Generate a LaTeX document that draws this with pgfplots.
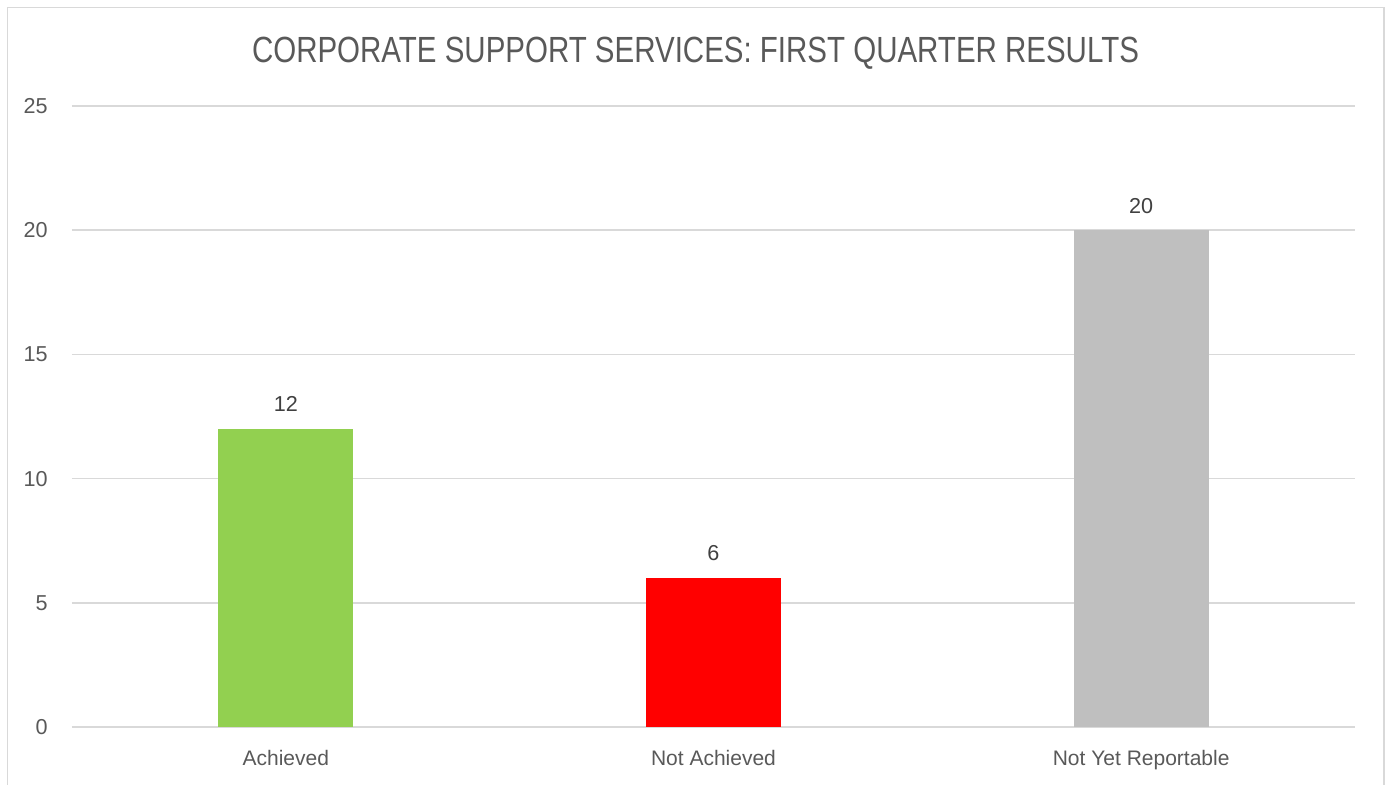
\documentclass[border=0pt]{standalone}
\usepackage{pgfplots}
\pgfplotsset{compat=1.18}
\usepackage{fontspec}
\setmainfont{Liberation Sans}
\newfontfamily\titlefont[FakeStretch=0.81]{Liberation Sans}

\definecolor{achieved}{HTML}{92D050}
\definecolor{notach}{HTML}{FF0000}
\definecolor{notyet}{HTML}{BFBFBF}
\definecolor{gridc}{HTML}{D9D9D9}
\definecolor{txt}{HTML}{595959}
\definecolor{lbl}{HTML}{404040}

\begin{document}
% 1 px of the reference = 0.5pt
\begin{tikzpicture}[x=0.5pt,y=-0.5pt]
    \useasboundingbox (0,0) rectangle (1391,785);
    % chart frame
    \draw[gridc, line width=0.75pt] (7.5,785) -- (7.5,7.5) -- (1384,7.5) -- (1384,785);

    \node[anchor=base, inner sep=0pt, text=txt, font=\titlefont\fontsize{18.2}{20}\selectfont]
        at (695.5,63) {CORPORATE SUPPORT SERVICES: FIRST QUARTER RESULTS};

    \begin{axis}[
        at={(36pt,-363.5pt)}, anchor=south west,
        scale only axis,
        width=641.5pt, height=310.5pt,
        xmin=-0.5, xmax=2.5,
        ymin=0, ymax=25,
        ytick={0,5,...,25},
        xtick={0,1,2},
        xticklabels={Achieved, Not Achieved, Not Yet Reportable},
        major tick length=0pt,
        axis line style={draw=none},
        ymajorgrids,
        grid style={gridc, line width=0.75pt},
        /pgf/number format/assume math mode=true,
        yticklabel style={anchor=east, inner sep=0pt, xshift=-12pt,
            text=txt, font=\fontsize{10.8}{12}\selectfont},
        xticklabel style={anchor=base, inner sep=0pt, yshift=-19pt,
            text=txt, font=\fontsize{10.5}{12}\selectfont},
        ybar, bar width=67.5pt, bar shift=0pt,
        nodes near coords,
        nodes near coords style={anchor=base, inner sep=0pt, yshift=8.5pt,
            text=lbl, font=\fontsize{10.8}{12}\selectfont},
        clip=false,
    ]
        \addplot[draw=none, fill=achieved] coordinates {(0,12)};
        \addplot[draw=none, fill=notach] coordinates {(1,6)};
        \addplot[draw=none, fill=notyet] coordinates {(2,20)};
    \end{axis}
\end{tikzpicture}
\end{document}
